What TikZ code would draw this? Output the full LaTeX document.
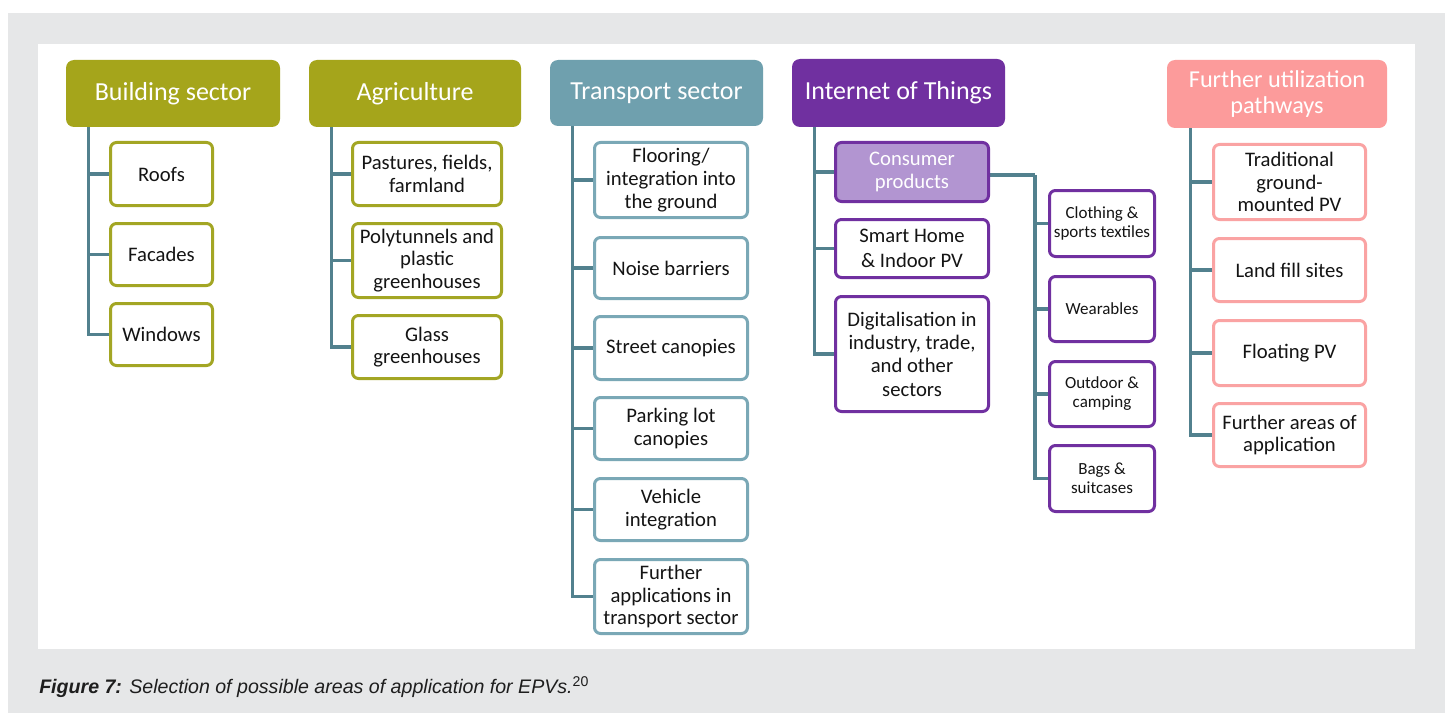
\documentclass[tikz,border=0pt]{standalone}
\usepackage{fontspec}
\setmainfont{Carlito}
\newfontfamily\capfont{Liberation Sans}
\usetikzlibrary{calc}
\definecolor{cBg}{RGB}{230,231,232}
\definecolor{cOlive}{RGB}{165,165,27}
\definecolor{cOliveB}{RGB}{163,166,36}
\definecolor{cTeal}{RGB}{111,160,174}
\definecolor{cTealB}{RGB}{122,168,182}
\definecolor{cLine}{RGB}{82,129,142}
\definecolor{cPurple}{RGB}{112,48,160}
\definecolor{cLilac}{RGB}{178,149,209}
\definecolor{cPink}{RGB}{252,155,155}
\definecolor{cPinkB}{RGB}{250,163,163}
\definecolor{cText}{RGB}{20,20,20}
\definecolor{cCap}{RGB}{30,30,30}
\pgfdeclarelayer{back}
\pgfdeclarelayer{lines}
\pgfsetlayers{back,lines,main}
\tikzset{
  hdr/.style={rounded corners=6pt, text=white, align=center, inner sep=0pt,
    font=\fontsize{19.5}{20}\selectfont},
  bx/.style={draw, line width=2.25pt, rounded corners=4.5pt, fill=white, align=center,
    inner sep=0pt, text=cText, font=\fontsize{15.5}{17}\selectfont},
  smallbx/.style={bx, draw=cPurple, font=\fontsize{12.75}{14.25}\selectfont},
  conn/.style={draw=cLine, line width=2.6pt},
}
% box by pixel corners: name, x1, y1, x2, y2, style, text
\newcommand\bxx[7]{\node[#6, minimum width={(#4-#2-3)*0.75pt}, minimum height={(#5-#3-3)*0.75pt}] (#1) at ({(#2+#4)/2},{(#3+#5)/2}) {#7};}
\newcommand\hdd[7]{\node[#6, minimum width={(#4-#2)*0.75pt}, minimum height={(#5-#3)*0.75pt}] (#1) at ({(#2+#4)/2},{(#3+#5)/2}) {#7};}
\begin{document}
\begin{tikzpicture}[x=0.75pt, y=-0.75pt]
\begin{pgfonlayer}{back}
  \fill[white] (0,0) rectangle (1451,713);
  \fill[cBg] (8,13) rectangle (1445,713);
  \fill[white] (38,44) rectangle (1415,649);
\end{pgfonlayer}
\useasboundingbox (0,0) rectangle (1451,713);

% Building sector
\hdd{h1}{66}{60}{280}{127}{hdr, fill=cOlive}{Building sector}
\bxx{b1}{109}{141}{214}{207}{bx, draw=cOliveB}{Roofs}
\bxx{b2}{109}{222}{214}{287}{bx, draw=cOliveB}{Facades}
\bxx{b3}{109}{302}{214}{367}{bx, draw=cOliveB}{Windows}

% Agriculture
\hdd{h2}{309}{60}{521}{127}{hdr, fill=cOlive}{Agriculture}
\bxx{a1}{351}{141}{503}{207}{bx, draw=cOliveB}{Pastures, fields,\\farmland}
\bxx{a2}{351}{222}{503}{299}{bx, draw=cOliveB}{Polytunnels and\\plastic\\greenhouses}
\bxx{a3}{351}{314}{503}{380}{bx, draw=cOliveB}{Glass\\greenhouses}

% Transport sector
\hdd{h3}{550}{60}{763}{126}{hdr, fill=cTeal}{Transport sector}
\bxx{t1}{593}{141}{749}{219}{bx, draw=cTealB}{Flooring/\\integration into\\the ground}
\bxx{t2}{593}{236}{749}{300}{bx, draw=cTealB}{Noise barriers}
\bxx{t3}{593}{315}{749}{381}{bx, draw=cTealB}{Street canopies}
\bxx{t4}{593}{396}{749}{461}{bx, draw=cTealB}{Parking lot\\canopies}
\bxx{t5}{593}{477}{749}{542}{bx, draw=cTealB}{Vehicle\\integration}
\bxx{t6}{593}{558}{749}{635}{bx, draw=cTealB}{Further\\applications in\\transport sector}

% Internet of Things
\hdd{h4}{792}{59}{1005}{127}{hdr, fill=cPurple}{Internet of Things}
\bxx{i1}{834}{141}{990}{203}{bx, draw=cPurple, fill=cLilac, text=white}{Consumer\\products}
\bxx{i2}{834}{218}{990}{279}{bx, draw=cPurple, font=\fontsize{15.5}{19.3}\selectfont}{Smart Home\\\& Indoor PV}
\bxx{i3}{834}{295}{990}{413}{bx, draw=cPurple, font=\fontsize{15.5}{17.5}\selectfont}{Digitalisation in\\industry, trade,\\and other\\sectors}
\bxx{s1}{1048}{189}{1156}{258}{smallbx}{Clothing \&\\sports textiles}
\bxx{s2}{1048}{275}{1156}{343}{smallbx}{Wearables}
\bxx{s3}{1048}{360}{1156}{428}{smallbx}{Outdoor \&\\camping}
\bxx{s4}{1048}{444}{1156}{513}{smallbx}{Bags \&\\suitcases}

% Further utilization pathways
\hdd{h5}{1167}{60}{1387}{128}{hdr, fill=cPink, font=\fontsize{18.2}{20}\selectfont}{Further utilization\\pathways}
\bxx{f1}{1212}{143}{1367}{221}{bx, draw=cPinkB}{Traditional\\ground-\\mounted PV}
\bxx{f2}{1212}{237}{1367}{303}{bx, draw=cPinkB}{Land fill sites}
\bxx{f3}{1212}{319}{1367}{387}{bx, draw=cPinkB}{Floating PV}
\bxx{f4}{1212}{402}{1367}{468}{bx, draw=cPinkB}{Further areas of\\application}

% trunk coordinates
\coordinate (r1) at ($(h1.south west)+(23,0)$);
\coordinate (r2) at ($(h2.south west)+(23,0)$);
\coordinate (r3) at ($(h3.south west)+(23,0)$);
\coordinate (r4) at ($(h4.south west)+(23,0)$);
\coordinate (r5) at ($(h5.south west)+(24,0)$);
\coordinate (jo) at ($(i1.east)+(0,3)$);
\coordinate (jn) at ($(i1.east)+(45,3)$);

\begin{pgfonlayer}{lines}
  \foreach \c in {b1,b2,b3} \draw[conn] (r1) |- (\c.west);
  \foreach \c in {a1,a2,a3} \draw[conn] (r2) |- (\c.west);
  \foreach \c in {t1,t2,t3,t4,t5,t6} \draw[conn] (r3) |- (\c.west);
  \foreach \c in {i1,i2,i3} \draw[conn] (r4) |- (\c.west);
  \foreach \c in {f1,f2,f3,f4} \draw[conn] (r5) |- (\c.west);
  \draw[conn] (jo) -- (jn);
  \foreach \c in {s1,s2,s3,s4} \draw[conn] (jn) |- (\c.west);
\end{pgfonlayer}

% caption
\node[anchor=base west, inner sep=0pt, text=cCap,
  font=\capfont\fontsize{14.7}{16}\selectfont\itshape] (cap) at (39,693)
  {\textbf{Figure 7:} Selection of possible areas of application for EPVs.\raisebox{5.2pt}{\upshape\fontsize{10.6}{11}\selectfont 20}};
\end{tikzpicture}
\end{document}
